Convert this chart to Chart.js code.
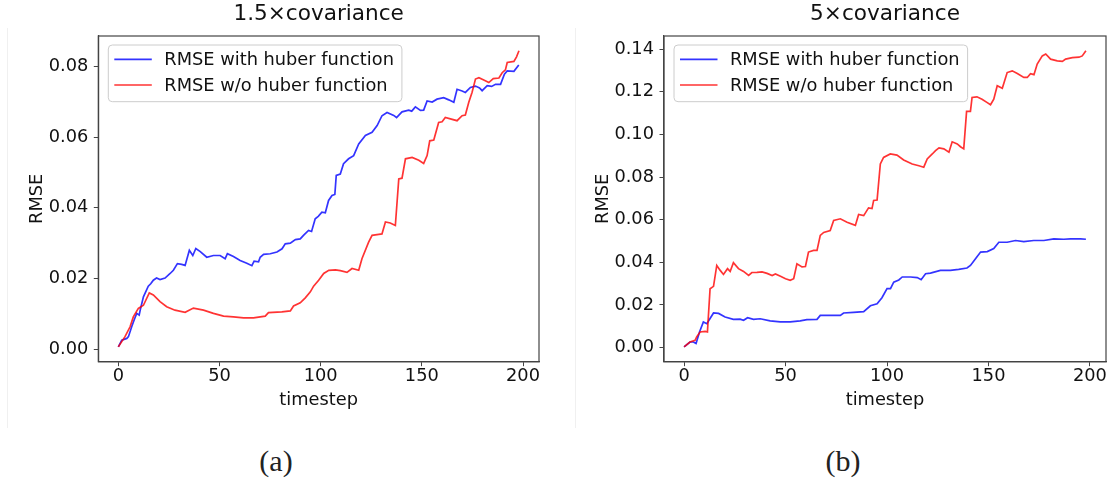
<!DOCTYPE html>
<html>
<head>
<meta charset="utf-8">
<script src="https://cdn.jsdelivr.net/npm/chart.js@4.4.0/dist/chart.umd.min.js"></script>
<style>
  body { margin: 0; background: #fff; }
  #page { position: relative; width: 1108px; height: 484px; overflow: hidden; background: #fff; }
  canvas { position: absolute; top: 0; }
  #chartA { left: 0; }
  #chartB { left: 560px; }
  .caption { position: absolute; top: 444px; width: 60px; text-align: center;
    font-family: "Liberation Serif", serif; font-size: 30px; color: #222; }
  .edge { position: absolute; top: 28px; height: 400px; border-left: 1px solid #f0f0f0; }
</style>
</head>
<body>
<div id="page">
  <div class="edge" style="left:7px"></div>
  <div class="edge" style="left:575px"></div>
  <canvas id="chartA" width="560" height="440"></canvas>
  <canvas id="chartB" width="548" height="440"></canvas>
  <div class="caption" style="left:246px">(a)</div>
  <div class="caption" style="left:813px">(b)</div>
</div>
<script>
// tick labels
const xTicks = [0, 50, 100, 150, 200];
const yTicksA = [0, 0.02, 0.04, 0.06, 0.08];
const yTicksB = [0, 0.02, 0.04, 0.06, 0.08, 0.10, 0.12, 0.14];

// (a) 1.5x covariance - with huber
const aHuberX = [0, 1.7, 4.2, 5, 6.6, 8, 9.1, 10.3, 11, 12.4, 14.8, 16, 17.3, 18.9, 20.6, 23.1, 25.6, 27.2, 29.2, 31.3,
  33, 35.1, 36.8, 38.3, 40.5, 43.7, 47, 50.3, 52.8, 53.9, 56.9, 60.2, 63.5, 66, 67.1, 69.3, 70.1, 71.8, 75.1, 78.4,
  80.9, 82.5, 85, 87.5, 89.9, 91.5, 94, 95.5, 97.3, 98.8, 100.6, 102.3, 103.9, 105.6, 107, 107.7, 109.7, 111.3, 113.8, 116.3,
  118.8, 122.1, 125.4, 127.9, 130.3, 132.8, 136.1, 137.5, 140.2, 143.5, 145, 146.8, 149.3, 150.9, 152.6, 155.1, 157.5, 160.8, 163.3, 165.8,
  167.4, 169.9, 171.5, 174, 176.5, 178.5, 179.8, 182.3, 184.5, 186.4, 188.9, 190.8, 192.2, 195.5, 197.9];
const aHuberY = [0.0006, 0.0025, 0.0030, 0.0035, 0.0063, 0.0085, 0.0101, 0.0096, 0.0115, 0.0148, 0.0178, 0.0185, 0.0195, 0.0201, 0.0197, 0.0201, 0.0214, 0.0223, 0.0242, 0.0240,
  0.0237, 0.0280, 0.0265, 0.0285, 0.0276, 0.0260, 0.0265, 0.0265, 0.0256, 0.0270, 0.0262, 0.0251, 0.0243, 0.0236, 0.0249, 0.0247, 0.0260, 0.0268, 0.0270, 0.0275,
  0.0284, 0.0298, 0.0300, 0.0310, 0.0312, 0.0322, 0.0336, 0.0333, 0.0369, 0.0376, 0.0388, 0.0386, 0.0421, 0.0435, 0.0438, 0.0492, 0.0496, 0.0525, 0.0539, 0.0548,
  0.0581, 0.0605, 0.0614, 0.0633, 0.0661, 0.0670, 0.0662, 0.0656, 0.0672, 0.0677, 0.0674, 0.0686, 0.0676, 0.0677, 0.0703, 0.0700, 0.0708, 0.0712, 0.0706, 0.0699,
  0.0736, 0.0731, 0.0727, 0.0741, 0.0745, 0.0740, 0.0732, 0.0746, 0.0744, 0.0750, 0.0750, 0.0779, 0.0788, 0.0787, 0.0805];

// (a) 1.5x covariance - without huber
const aPlainX = [0, 3.3, 5.8, 7.4, 9.9, 12.4, 15.3, 17.3, 20.6, 23.9, 28, 33, 37.1, 42.1, 47, 52, 56.9, 61.9, 66.8, 72.6,
  74.2, 80.8, 85, 86.6, 89.9, 92.4, 94.9, 96.5, 99, 101.5, 104, 107.3, 109.7, 113, 115.5, 118.8, 120.4, 123.7, 125.4, 128.7,
  130.3, 132, 134.4, 136.9, 138.6, 140.2, 141.9, 145.2, 148.5, 150.9, 152.6, 153.9, 155.9, 158.3, 160, 161.6, 164.1, 167.4, 169.9, 171.5,
  173.2, 174.8, 176.5, 178.2, 180.6, 183.1, 185.3, 188.1, 189.7, 191.3, 192.2, 195.5, 196.8, 198];
const aPlainY = [0.0006, 0.0035, 0.0063, 0.0091, 0.0115, 0.0124, 0.0159, 0.0153, 0.0134, 0.0120, 0.0110, 0.0104, 0.0116, 0.0110, 0.0101, 0.0093, 0.0091, 0.0088, 0.0088, 0.0093,
  0.0103, 0.0105, 0.0108, 0.0122, 0.0131, 0.0145, 0.0162, 0.0178, 0.0195, 0.0214, 0.0223, 0.0224, 0.0222, 0.0217, 0.0228, 0.0223, 0.0256, 0.0303, 0.0322, 0.0325,
  0.0326, 0.0360, 0.0357, 0.0350, 0.0482, 0.0484, 0.0539, 0.0543, 0.0535, 0.0526, 0.0548, 0.0590, 0.0592, 0.0642, 0.0644, 0.0656, 0.0652, 0.0647, 0.0661, 0.0663,
  0.0699, 0.0727, 0.0765, 0.0769, 0.0762, 0.0755, 0.0766, 0.0768, 0.0783, 0.0791, 0.0812, 0.0815, 0.0828, 0.0845];

// (b) 5x covariance - with huber
const bHuberX = [0, 2.9, 4.6, 5.9, 7.6, 9.5, 11.2, 12.8, 14.5, 17, 20.2, 24.3, 27.6, 29.3, 31.3, 34.2, 37.5, 42.4, 47.4, 52.3,
  57.2, 60.5, 65.5, 67.1, 72, 77, 78.6, 83.5, 88.5, 91.8, 95.1, 97.5, 100, 101.7, 103.3, 105.8, 107.5, 111.6, 114.9, 116.8,
  119, 121.4, 126.3, 131.2, 135.3, 139.4, 141.1, 143.6, 146.1, 149.4, 152.6, 155.1, 159.2, 163.3, 167.4, 172.3, 177.3, 182.2, 187.1, 190.4,
  195.4, 198];
const bHuberY = [0.0003, 0.0026, 0.0026, 0.0019, 0.0073, 0.0120, 0.0112, 0.0136, 0.0162, 0.0160, 0.0143, 0.0132, 0.0133, 0.0128, 0.0140, 0.0132, 0.0135, 0.0125, 0.0120, 0.0120,
  0.0125, 0.0131, 0.0132, 0.0151, 0.0151, 0.0151, 0.0162, 0.0165, 0.0168, 0.0196, 0.0205, 0.0234, 0.0276, 0.0276, 0.0307, 0.0317, 0.0331, 0.0331, 0.0328, 0.0318,
  0.0346, 0.0349, 0.0362, 0.0362, 0.0367, 0.0373, 0.0385, 0.0417, 0.0448, 0.0450, 0.0464, 0.0494, 0.0494, 0.0502, 0.0497, 0.0502, 0.0502, 0.0510, 0.0508, 0.0510,
  0.0510, 0.0508];

// (b) 5x covariance - without huber
const bPlainX = [0, 2.9, 5.4, 6.2, 7.9, 10.4, 11.5, 12.8, 14.5, 16.1, 17.8, 19.4, 21.4, 22.7, 24.3, 26.8, 29.3, 31.8, 33.4, 35.9,
  38.4, 40.9, 43.4, 45, 47.5, 50, 52.3, 54, 55.6, 58.1, 59.8, 61.3, 63.8, 65.5, 67.1, 68.8, 72, 73.7, 77, 80.3,
  84.4, 86, 88.5, 90.9, 92.6, 93.4, 95.1, 96.7, 98.3, 101.6, 104.9, 108.2, 112.4, 115.7, 118.1, 119.8, 122.3, 123.9, 125.6, 128,
  130.5, 132.1, 134.6, 136.2, 137.8, 139.2, 141.1, 141.9, 144.3, 146.8, 149.2, 151, 152.6, 154.3, 156.8, 159.2, 161.7, 164.2, 167.4, 169.1,
  170.7, 172.4, 174, 176.5, 178.2, 180.6, 183.9, 186.4, 188, 191.3, 194.6, 196.2, 198];
const bPlainY = [0.0003, 0.0026, 0.0034, 0.0050, 0.0073, 0.0076, 0.0073, 0.0276, 0.0287, 0.0385, 0.0362, 0.0343, 0.0370, 0.0357, 0.0398, 0.0370, 0.0357, 0.0338, 0.0352, 0.0353,
  0.0355, 0.0348, 0.0338, 0.0345, 0.0334, 0.0323, 0.0315, 0.0323, 0.0393, 0.0378, 0.0380, 0.0448, 0.0456, 0.0456, 0.0526, 0.0540, 0.0549, 0.0596, 0.0604, 0.0588,
  0.0573, 0.0624, 0.0619, 0.0655, 0.0652, 0.0690, 0.0692, 0.0861, 0.0892, 0.0908, 0.0903, 0.0880, 0.0861, 0.0853, 0.0846, 0.0885, 0.0908, 0.0924, 0.0937, 0.0932,
  0.0916, 0.0965, 0.0955, 0.0942, 0.0932, 0.1108, 0.1108, 0.1173, 0.1176, 0.1165, 0.1150, 0.1139, 0.1165, 0.1228, 0.1216, 0.1290, 0.1298, 0.1285, 0.1267, 0.1267,
  0.1285, 0.1280, 0.1330, 0.1368, 0.1377, 0.1353, 0.1345, 0.1342, 0.1353, 0.1360, 0.1362, 0.1368, 0.1392];

const labelHuber = 'RMSE with huber function';
const labelPlain = 'RMSE w/o huber function';

const FONT = 'DejaVu Sans';
const INK = '#111';
const AXIS = '#444';

function toPoints(xs, ys) {
  return xs.map((x, i) => ({ x: x, y: ys[i] }));
}

// matplotlib style 5% margins around the data
function paddedRange(values) {
  const lo = Math.min(...values), hi = Math.max(...values);
  const m = (hi - lo) * 0.05;
  return [lo - m, hi + m];
}

// title, top/right spines and the legend box
const decorPlugin = {
  id: 'decor',
  afterDatasetsDraw(chart, args, opts) {
    const ctx = chart.ctx;
    const ca = chart.chartArea;
    ctx.save();

    // spines on top and right
    ctx.strokeStyle = AXIS;
    ctx.lineWidth = 1.2;
    ctx.strokeRect(ca.left, ca.top, ca.right - ca.left, ca.bottom - ca.top);

    // title
    ctx.fillStyle = INK;
    ctx.font = '21.6px "' + FONT + '"';
    ctx.textAlign = 'center';
    ctx.textBaseline = 'middle';
    ctx.fillText(opts.title, (ca.left + ca.right) / 2, 14);

    // legend
    ctx.font = '17.8px "' + FONT + '"';
    const sets = chart.data.datasets;
    let textW = 0;
    sets.forEach(ds => { textW = Math.max(textW, ctx.measureText(ds.label).width); });
    const bx = ca.left + 10, by = ca.top + 9;
    const bw = 56 + textW + 8, bh = 56.7;
    ctx.beginPath();
    ctx.roundRect(bx, by, bw, bh, 4);
    ctx.fillStyle = 'rgba(255,255,255,0.8)';
    ctx.fill();
    ctx.strokeStyle = '#cccccc';
    ctx.lineWidth = 1;
    ctx.stroke();
    ctx.textAlign = 'left';
    sets.forEach((ds, i) => {
      const ly = by + 14.3 + i * 25.7;
      ctx.beginPath();
      ctx.moveTo(bx + 6, ly);
      ctx.lineTo(bx + 43.5, ly);
      ctx.strokeStyle = ds.borderColor;
      ctx.lineWidth = ds.borderWidth;
      ctx.stroke();
      ctx.fillStyle = INK;
      ctx.fillText(ds.label, bx + 56, ly + 1);
    });
    ctx.restore();
  }
};

function makeChart(id, title, huber, plain, yTicks, cfg) {
  const xr = paddedRange(huber.x.concat(plain.x));
  const yr = paddedRange(huber.y.concat(plain.y));
  const tickFont = { family: FONT, size: 17.8 };

  return new Chart(document.getElementById(id), {
    type: 'line',
    data: {
      datasets: [
        { label: labelHuber, data: toPoints(huber.x, huber.y), borderColor: 'rgba(0,0,255,0.8)',
          borderWidth: 1.7, pointRadius: 0, tension: 0, order: 1 },
        { label: labelPlain, data: toPoints(plain.x, plain.y), borderColor: 'rgba(255,0,0,0.8)',
          borderWidth: 1.7, pointRadius: 0, tension: 0, order: 0 }
      ]
    },
    plugins: [decorPlugin],
    options: {
      responsive: false,
      animation: false,
      layout: { padding: { left: 0, top: 36, right: cfg.padRight, bottom: 0 } },
      plugins: {
        legend: { display: false },
        tooltip: { enabled: false },
        decor: { title: title }
      },
      scales: {
        x: {
          type: 'linear',
          min: xr[0],
          max: xr[1],
          afterBuildTicks: s => { s.ticks = xTicks.map(v => ({ value: v })); },
          afterFit: s => { s.height = 440 - 361.7; },
          grid: { drawOnChartArea: false, drawTicks: true, tickLength: 4.5, color: AXIS },
          border: { display: true, color: AXIS, width: 1.2 },
          ticks: { font: tickFont, color: INK, padding: 0, maxRotation: 0, callback: v => String(v) },
          title: { display: true, text: 'timestep', font: tickFont, color: INK, padding: { top: 0, bottom: 29.3 } }
        },
        y: {
          type: 'linear',
          min: yr[0],
          max: yr[1],
          afterBuildTicks: s => { s.ticks = yTicks.map(v => ({ value: v })); },
          afterFit: s => { s.width = cfg.yWidth; },
          grid: { drawOnChartArea: false, drawTicks: true, tickLength: 4.5, color: AXIS },
          border: { display: true, color: AXIS, width: 1.2 },
          ticks: { font: tickFont, color: INK, padding: 5.5, callback: v => v.toFixed(2) },
          title: { display: true, text: 'RMSE', font: tickFont, color: INK, padding: { top: cfg.yTitlePad, bottom: 0 } }
        }
      }
    }
  });
}

makeChart('chartA', '1.5\u00d7covariance',
  { x: aHuberX, y: aHuberY }, { x: aPlainX, y: aPlainY }, yTicksA,
  { padRight: 21, yWidth: 98.3, yTitlePad: 26.3 });

makeChart('chartB', '5\u00d7covariance',
  { x: bHuberX, y: bHuberY }, { x: bPlainX, y: bPlainY }, yTicksB,
  { padRight: 2, yWidth: 104, yTitlePad: 32.4 });
</script>
</body>
</html>
